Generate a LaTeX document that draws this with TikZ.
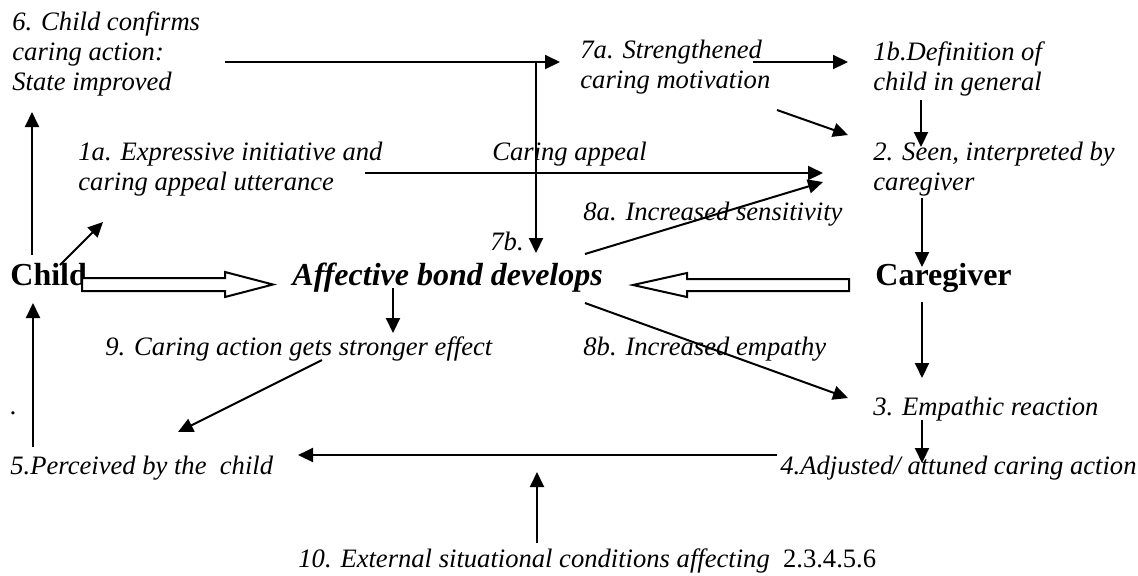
\documentclass[tikz,border=0pt]{standalone}
\usepackage{fontspec}
\setmainfont{Liberation Serif}
\usetikzlibrary{arrows.meta}

\begin{document}
\begin{tikzpicture}[x=0.5pt,y=-0.5pt,
  lbl/.style={anchor=base west,inner sep=0pt,font=\fontsize{13.3}{15}\selectfont\itshape},
  lbls/.style={anchor=north west,inner sep=0pt,align=left,font=\fontsize{13.3}{15}\selectfont\itshape},
  big/.style={anchor=base west,inner sep=0pt,font=\fontsize{16}{18}\selectfont\bfseries},
  arr/.style={line width=1pt,-{Triangle[length=7.5pt,width=7pt]}},
  fat/.style={line width=1pt,fill=white,line join=miter}]
        \useasboundingbox (0,0) rectangle (1138,575);

        \path (12,11.5) node[lbls] (s6) {6. Child confirms\\caring action:\\State improved}
              (580,39.5) node[lbls] (s7a) {7a. Strengthened\\caring motivation}
              (873,41.5) node[lbls] (s1b) {1b.Definition of\\child in general}
              (78,141.5) node[lbls] (s1a) {1a. Expressive initiative and\\caring appeal utterance}
              (873,141.5) node[lbls] (s2) {2. Seen, interpreted by\\caregiver};
        \path (492,160) node[lbl] (app) {Caring appeal}
              (583,220) node[lbl] (s8a) {8a. Increased sensitivity}
              (490,250) node[lbl] (s7b) {7b.}
              (10,285) node[big] (child) {Child}
              (292,285) node[big,font=\fontsize{16}{18}\selectfont\bfseries\itshape] (bond) {Affective bond develops}
              (875,285) node[big] (giver) {Caregiver}
              (105,355) node[lbl] (s9) {9. Caring action gets stronger effect}
              (583,355) node[lbl] (s8b) {8b. Increased empathy}
              (873,415) node[lbl] (s3) {3. Empathic reaction}
              (10,414) node[lbl] (dot) {.}
              (10,474) node[lbl] (s5) {5.Perceived by the\ \ child}
              (780,474) node[lbl] (s4) {4.Adjusted/ attuned caring action}
              (298,567) node[lbl] (s10) {10. External situational conditions affecting\ \ {\upshape 2.3.4.5.6}};

        % arrow ends
        \coordinate (c6) at (225,62);   \coordinate (c7a) at (560,62);
        \coordinate (j7) at (536,62);   \coordinate (c7b) at (536,253);
        \coordinate (o7a) at (753,62);  \coordinate (i1b) at (848,62);
        \coordinate (p7a) at (777,110); \coordinate (i2a) at (848,135);
        \coordinate (o1a) at (365,173); \coordinate (i2b) at (823,173);
        \coordinate (o8a) at (585,254); \coordinate (i2c) at (823,182);
        \coordinate (o1b) at (921,100); \coordinate (i2) at (921,147);
        \coordinate (o2) at (922,198);  \coordinate (ig) at (922,267);
        \coordinate (og) at (922,302);  \coordinate (i3) at (922,378);
        \coordinate (o3) at (922,420);  \coordinate (i4) at (922,463);
        \coordinate (o4) at (777,455);  \coordinate (i5) at (298,455);
        \coordinate (o10) at (537,543); \coordinate (i10) at (537,472);
        \coordinate (oc) at (32,255);   \coordinate (i6) at (32,112);
        \coordinate (o5) at (33,447);   \coordinate (ic) at (33,303);
        \coordinate (oc1) at (60,265);  \coordinate (i1a) at (103,222);
        \coordinate (ob) at (393,288);  \coordinate (i9) at (393,333);
        \coordinate (o9) at (322,360);  \coordinate (i5b) at (178,432);
        \coordinate (o8b) at (585,303); \coordinate (i3b) at (848,398);

        \draw[arr] (c6) -- (c7a);
        \draw[arr] (j7) -- (c7b);
        \draw[arr] (o7a) -- (i1b);
        \draw[arr] (p7a) -- (i2a);
        \draw[arr] (o1a) -- (i2b);
        \draw[arr] (o8a) -- (i2c);
        \draw[arr] (o1b) -- (i2);
        \draw[arr] (o2) -- (ig);
        \draw[arr] (og) -- (i3);
        \draw[arr] (o3) -- (i4);
        \draw[arr] (o4) -- (i5);
        \draw[arr] (o10) -- (i10);
        \draw[arr] (oc) -- (i6);
        \draw[arr] (o5) -- (ic);
        \draw[arr] (oc1) -- (i1a);
        \draw[arr] (ob) -- (i9);
        \draw[arr] (o9) -- (i5b);
        \draw[arr] (o8b) -- (i3b);

        % hollow arrows into the bond
        \draw[fat] (82,278) -- (225,278) -- (225,272) -- (273,284.5) -- (225,297) -- (225,291) -- (82,291) -- cycle;
        \draw[fat] (849,279) -- (687,279) -- (687,273) -- (633,285) -- (687,297) -- (687,291) -- (849,291) -- cycle;
\end{tikzpicture}
\end{document}
